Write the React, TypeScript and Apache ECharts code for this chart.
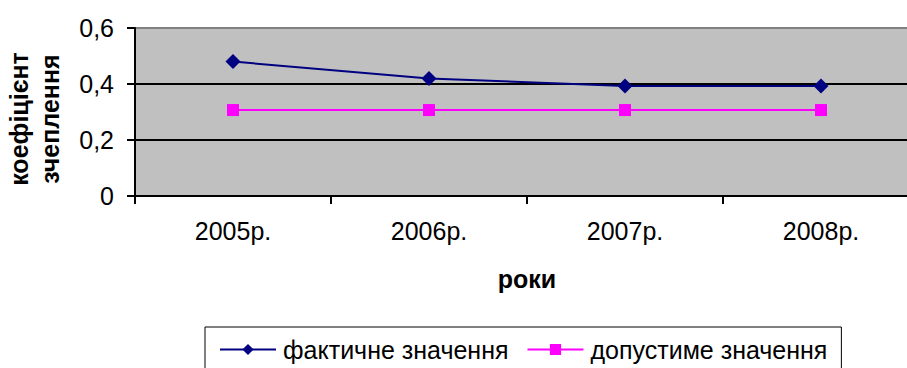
import React, { useEffect, useRef } from "react";
import * as echarts from "echarts";

const categories = ["2005р.", "2006р.", "2007р.", "2008р."];
const actualValues = [0.48, 0.42, 0.393, 0.393];
const allowedValues = [0.307, 0.307, 0.307, 0.307];
const seriesNames = ["фактичне значення", "допустиме значення"];
const yTitle = "коефіцієнт\nзчеплення";
const xTitle = "роки";

const FONT = "'Liberation Sans', Arial, sans-serif";

export default function App() {
  const ref = useRef<HTMLDivElement>(null);
  useEffect(() => {
    if (!ref.current) return;
    const chart = echarts.init(ref.current, undefined, { renderer: "svg" });
    chart.setOption({
      animation: false,
      backgroundColor: "#ffffff",
      textStyle: { fontFamily: FONT, color: "#000" },
      grid: {
        show: true,
        left: 135,
        top: 28,
        width: 784,
        height: 168,
        backgroundColor: "#c0c0c0",
        borderWidth: 0,
        containLabel: false,
        outerBoundsMode: "none",
      },
      legend: {
        left: 205,
        top: 327,
        orient: "horizontal",
        borderColor: "#000",
        borderWidth: 1,
        padding: [10, 14, 14, 14],
        itemWidth: 56,
        itemHeight: 14,
        itemGap: 18,
        textStyle: { fontFamily: FONT, fontSize: 25, color: "#000", padding: [0, 0, 0, 2] },
        data: seriesNames,
      },
      xAxis: {
        type: "category",
        data: categories,
        boundaryGap: true,
        name: xTitle,
        nameLocation: "middle",
        nameGap: 70,
        nameTextStyle: { fontFamily: FONT, fontSize: 25, fontWeight: "bold", color: "#000" },
        axisLine: { lineStyle: { color: "#000", width: 2 } },
        axisTick: { show: true, length: 8, lineStyle: { color: "#000", width: 2 } },
        axisLabel: { fontFamily: FONT, fontSize: 25, color: "#000", margin: 22 },
        splitLine: { show: false },
      },
      yAxis: {
        type: "value",
        min: 0,
        max: 0.6,
        interval: 0.2,
        name: yTitle,
        nameLocation: "middle",
        nameRotate: 90,
        nameGap: 70,
        nameTextStyle: {
          fontFamily: FONT,
          fontSize: 25,
          fontWeight: "bold",
          color: "#000",
          lineHeight: 31,
          padding: [0, 14, 0, 0],
        },
        axisLine: { show: true, lineStyle: { color: "#000", width: 2 } },
        axisTick: { show: true, length: 8, lineStyle: { color: "#000", width: 2 } },
        axisLabel: {
          fontFamily: FONT,
          fontSize: 25,
          color: "#000",
          margin: 21,
          formatter: (v: number) => String(Math.round(v * 10) / 10).replace(".", ","),
        },
        splitLine: {
          show: true,
          lineStyle: { color: ["#000", "#000", "#000", "#808080"], width: 2 },
        },
      },
      series: [
        {
          name: seriesNames[0],
          type: "line",
          data: actualValues,
          symbol: "diamond",
          symbolSize: 15,
          color: "#000080",
          lineStyle: { color: "#000080", width: 2 },
          itemStyle: { color: "#000080" },
          z: 3,
        },
        {
          name: seriesNames[1],
          type: "line",
          data: allowedValues,
          symbol: "rect",
          symbolSize: 12,
          color: "#ff00ff",
          lineStyle: { color: "#ff00ff", width: 2 },
          itemStyle: { color: "#ff00ff" },
          z: 2,
        },
      ],
    });
    return () => chart.dispose();
  }, []);
  return (
    <div
      ref={ref}
      style={{ position: "fixed", left: 0, top: 0, width: 907, height: 368, background: "#fff" }}
    />
  );
}
